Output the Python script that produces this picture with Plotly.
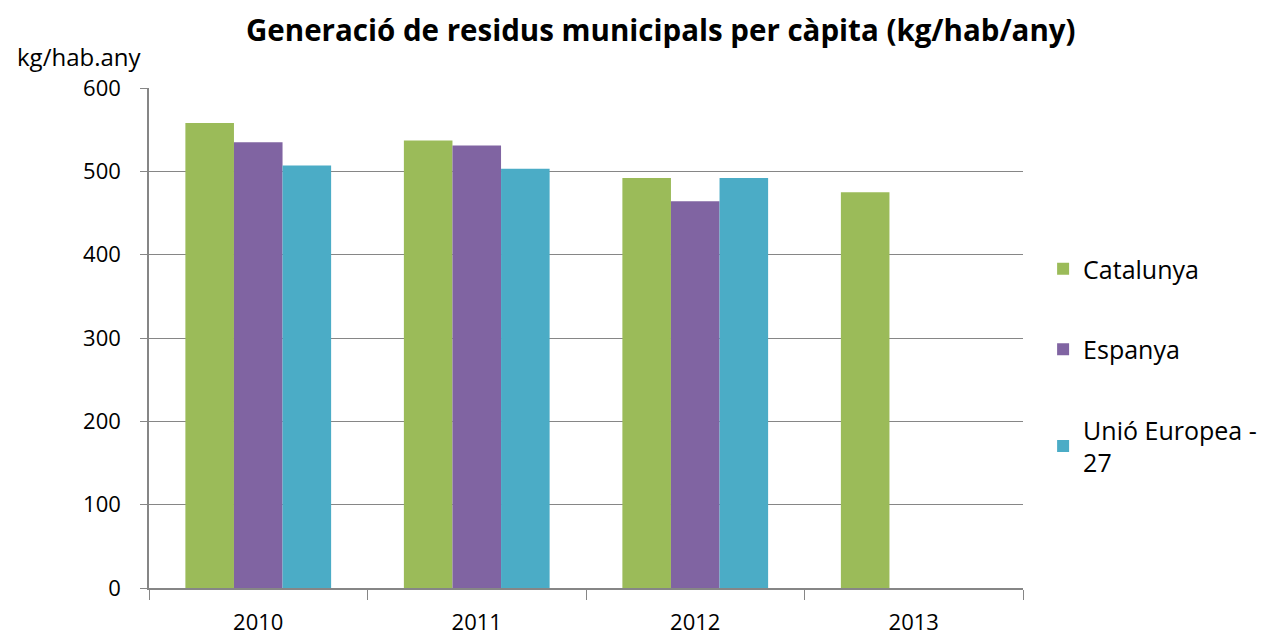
import plotly.graph_objects as go

years = ["2010", "2011", "2012", "2013"]
catalunya = [558, 537, 492, 475]
espanya = [535, 531, 464, None]
ue27 = [507, 503, 492, None]
series_names = ["Catalunya", "Espanya", "Unió Europea -<br>27"]
colors = ["#9BBB59", "#8064A2", "#4BACC6"]
y_ticks = [0, 100, 200, 300, 400, 500, 600]

fig = go.Figure()
for i, (name, vals) in enumerate(zip(series_names, [catalunya, espanya, ue27])):
    fig.add_trace(go.Bar(
        x=years, y=vals, name=name, legendgroup=f"g{i}",
        marker=dict(color=colors[i], line=dict(width=0)),
    ))

fig.update_layout(
    width=1280, height=635,
    paper_bgcolor="white", plot_bgcolor="white",
    margin=dict(l=141, r=265, t=80, b=55),
    barmode="group", bargap=0.333, bargroupgap=0,
    font=dict(family="Open Sans, Liberation Sans, sans-serif", color="black"),
    title=dict(
        text="<b>Generació de residus municipals per càpita (kg/hab/any)</b>",
        x=0.510, xanchor="center", xref="container",
        y=0.965, yanchor="middle",
        font=dict(size=29.5, color="black"),
    ),
    legend=dict(
        x=1.023, xanchor="left", y=0.445, yanchor="middle",
        font=dict(size=25), tracegroupgap=45,
        itemwidth=30,
    ),
    showlegend=True,
)
fig.update_xaxes(
    type="category", showline=True, linecolor="#868686", linewidth=1.5,
    ticks="outside", tickson="boundaries", ticklen=10, tickcolor="#868686",
    tickfont=dict(size=22), showgrid=False, ticklabelstandoff=14, automargin=False,
)
fig.update_yaxes(
    range=[0, 600], tickvals=y_ticks, showline=True, linecolor="#868686", linewidth=1.5,
    ticks="outside", ticklen=7, tickcolor="#868686",
    showgrid=True, gridcolor="#868686", gridwidth=1.2,
    tickfont=dict(size=22), zeroline=False, ticklabelstandoff=15, automargin=False,
)
fig.add_annotation(
    text="kg/hab.any", xref="paper", yref="paper", x=-0.153, y=1.0, yshift=32,
    xanchor="left", yanchor="middle", showarrow=False, font=dict(size=24),
)
fig.write_html("out.html")
